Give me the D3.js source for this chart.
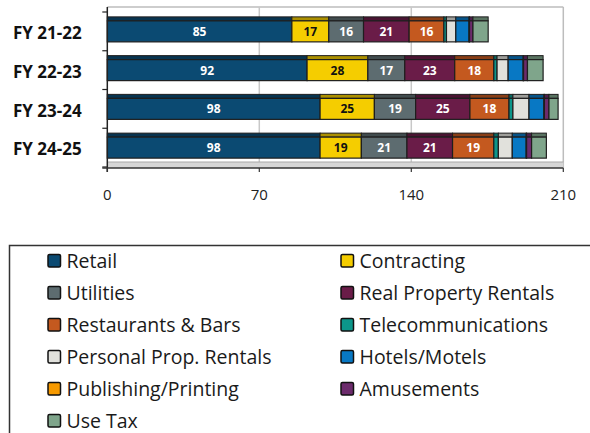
<!DOCTYPE html>
<html>
<head>
<meta charset="utf-8">
<script src="https://cdn.jsdelivr.net/npm/d3@7"></script>
<style>
  body { margin: 0; background: #fff; }
  text { font-family: "Open Sans", "Noto Sans", sans-serif; }
</style>
</head>
<body>
<div id="chart"></div>
<script>
// Categories (fiscal years) and tick values
const years = ["FY 21-22", "FY 22-23", "FY 23-24", "FY 24-25"];
const xTicks = [0, 70, 140, 210];

// Series values, one array per revenue source
const retail = [85, 92, 98, 98];
const contracting = [17, 28, 25, 19];
const utilities = [16, 17, 19, 21];
const realProperty = [21, 23, 25, 21];
const restaurants = [16, 18, 18, 19];
const telecom = [1.2, 1.5, 1.8, 2.1];
const personalProp = [4.3, 5.1, 7.4, 6.4];
const hotels = [6.1, 6.9, 6.9, 6.4];
const publishing = [0.2, 0.2, 0.2, 0.2];
const amusements = [1.6, 1.8, 2.1, 2.3];
const useTax = [7.0, 7.2, 4.2, 6.8];

// Series names + colours
const seriesNames = ["Retail", "Contracting", "Utilities", "Real Property Rentals",
    "Restaurants & Bars", "Telecommunications", "Personal Prop. Rentals",
    "Hotels/Motels", "Publishing/Printing", "Amusements", "Use Tax"];
const seriesValues = [retail, contracting, utilities, realProperty, restaurants,
    telecom, personalProp, hotels, publishing, amusements, useTax];
const colors = ["#0b4a72", "#f5cd00", "#5d6c70", "#6a1c48", "#c4591f", "#0c968a",
    "#e1e1dc", "#0878c4", "#f79a00", "#6c2b6c", "#7fa58b"];

// Build rows for d3.stack
let rows = years.map(function(y, i) {
    let r = {year: y};
    seriesNames.forEach(function(s, j) { r[s] = seriesValues[j][i]; });
    return r;
});
let stacked = d3.stack().keys(seriesNames)(rows);

let width = 590, height = 433;
let svg = d3.select("#chart").append("svg")
    .attr("width", width)
    .attr("height", height);

// Scales
let x = d3.scaleLinear().domain([0, 210]).range([107.3, 563.3]);
let y = d3.scaleBand().domain(years).range([12, 167]);
let plotTop = 7, floorY = 168;
let bodyH = 21, stripH = 4;

// Frame: top + right border
svg.append("line").attr("x1", x(0)).attr("x2", x(210)).attr("y1", plotTop).attr("y2", plotTop)
    .attr("stroke", "#bdbdbd").attr("stroke-width", 1.5);
svg.append("line").attr("x1", x(210)).attr("x2", x(210)).attr("y1", plotTop).attr("y2", floorY)
    .attr("stroke", "#bdbdbd").attr("stroke-width", 1.5);

// Gridlines
svg.selectAll(".grid").data(xTicks.slice(1, 3)).enter().append("line")
    .attr("class", "grid")
    .attr("x1", d => x(d)).attr("x2", d => x(d))
    .attr("y1", plotTop).attr("y2", floorY)
    .attr("stroke", "#c8c8c8").attr("stroke-width", 1.5);

// Floor strip (3d look)
svg.append("rect")
    .attr("x", x(0)).attr("y", floorY - 6)
    .attr("width", x(210) - x(0)).attr("height", 6)
    .attr("fill", "#d6d6d6");
svg.append("line").attr("x1", x(0)).attr("x2", x(210)).attr("y1", floorY - 6).attr("y2", floorY - 6)
    .attr("stroke", "#a8a8a8").attr("stroke-width", 1);

// Bars
let groups = svg.selectAll(".series").data(stacked).enter().append("g")
    .attr("class", "series");

groups.each(function(s, si) {
    let g = d3.select(this);
    let col = colors[si];
    // top face strip
    g.selectAll(".strip").data(s).enter().append("rect")
        .attr("class", "strip")
        .attr("x", d => x(d[0]))
        .attr("y", d => y(d.data.year) + y.bandwidth() / 2 - bodyH / 2 - stripH)
        .attr("width", d => x(d[1]) - x(d[0]))
        .attr("height", stripH)
        .attr("fill", d3.color(col).darker(1))
        .attr("stroke", "#1e1e1e").attr("stroke-width", 1);
    // main body
    g.selectAll(".body").data(s).enter().append("rect")
        .attr("class", "body")
        .attr("x", d => x(d[0]))
        .attr("y", d => y(d.data.year) + y.bandwidth() / 2 - bodyH / 2)
        .attr("width", d => x(d[1]) - x(d[0]))
        .attr("height", bodyH)
        .attr("fill", col)
        .attr("stroke", "#1e1e1e").attr("stroke-width", 1.2);
    // value labels for the big segments
    g.selectAll(".lbl").data(s.filter(d => d[1] - d[0] >= 10)).enter().append("text")
        .attr("class", "lbl")
        .attr("x", d => (x(d[0]) + x(d[1])) / 2)
        .attr("y", d => y(d.data.year) + y.bandwidth() / 2 + 4.5)
        .attr("text-anchor", "middle")
        .attr("font-size", 12)
        .attr("font-weight", "bold")
        .attr("fill", si == 1 ? "#111" : "#fff")
        .text(d => Math.round(d[1] - d[0]));
});

// Left axis line + ticks at band edges
svg.append("line").attr("x1", x(0)).attr("x2", x(0)).attr("y1", plotTop).attr("y2", floorY + 4)
    .attr("stroke", "#222").attr("stroke-width", 1.5);
let edges = years.map(d => y(d)).concat([y.range()[1]]);
svg.selectAll(".ytick").data(edges).enter().append("line")
    .attr("x1", x(0) - 5).attr("x2", x(0))
    .attr("y1", d => d).attr("y2", d => d)
    .attr("stroke", "#222").attr("stroke-width", 1.2);

// Bottom axis
svg.append("line").attr("x1", x(0) - 5).attr("x2", x(210)).attr("y1", floorY).attr("y2", floorY)
    .attr("stroke", "#333").attr("stroke-width", 1.5);
svg.selectAll(".xtick").data(xTicks).enter().append("line")
    .attr("x1", d => x(d)).attr("x2", d => x(d))
    .attr("y1", floorY).attr("y2", floorY + 4)
    .attr("stroke", "#333").attr("stroke-width", 1.2);
svg.selectAll(".xlab").data(xTicks).enter().append("text")
    .attr("x", d => x(d)).attr("y", 199.5)
    .attr("text-anchor", "middle")
    .attr("font-size", 15)
    .attr("fill", "#222")
    .text(d => d);

// Category labels
svg.selectAll(".ylab").data(years).enter().append("text")
    .attr("x", 13).attr("y", d => y(d) + y.bandwidth() / 2 + 7.8)
    .attr("font-size", 17)
    .attr("font-weight", "bold")
    .attr("fill", "#111")
    .text(d => d);

// Legend box
svg.append("rect")
    .attr("x", 9.5).attr("y", 245.5)
    .attr("width", 600).attr("height", 200)
    .attr("fill", "none").attr("stroke", "#333").attr("stroke-width", 1.5);

let leg = svg.selectAll(".leg").data(seriesNames).enter().append("g")
    .attr("class", "leg")
    .attr("transform", (d, i) => "translate(" + (i % 2 ? 341 : 48) + "," + (261 + Math.floor(i / 2) * 32) + ")");
leg.append("rect")
    .attr("x", 0).attr("y", -6.5)
    .attr("width", 12.5).attr("height", 12.5)
    .attr("rx", 1.5)
    .attr("fill", (d, i) => colors[i])
    .attr("stroke", "#111").attr("stroke-width", 1.5);
leg.append("text")
    .attr("x", 18.5).attr("y", 7)
    .attr("font-size", 19.5)
    .attr("fill", "#1a1a1a")
    .text(d => d);
</script>
</body>
</html>
